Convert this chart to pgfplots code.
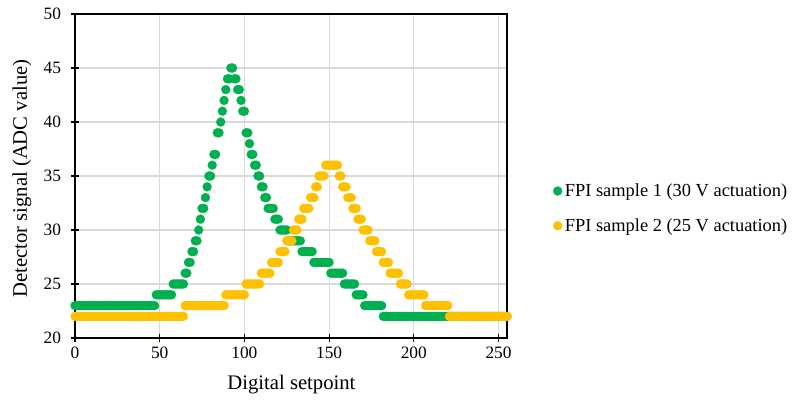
\documentclass[border=0pt]{standalone}
\usepackage{pgfplots}
\usepackage{pgfplotstable}
\pgfplotsset{compat=1.18}
\usepackage{fontspec}
\setmainfont{Liberation Serif}

\definecolor{sgreen}{HTML}{00B050}
\definecolor{syellow}{HTML}{FFC000}
\definecolor{gridgray}{HTML}{D9D9D9}

% setpoint, FPI sample 1, FPI sample 2
\pgfplotstableread[row sep=\\]{
x g y\\
0 23 22\\1 23 22\\2 23 22\\3 23 22\\4 23 22\\5 23 22\\6 23 22\\7 23 22\\
8 23 22\\9 23 22\\10 23 22\\11 23 22\\12 23 22\\13 23 22\\14 23 22\\15 23 22\\
16 23 22\\17 23 22\\18 23 22\\19 23 22\\20 23 22\\21 23 22\\22 23 22\\23 23 22\\
24 23 22\\25 23 22\\26 23 22\\27 23 22\\28 23 22\\29 23 22\\30 23 22\\31 23 22\\
32 23 22\\33 23 22\\34 23 22\\35 23 22\\36 23 22\\37 23 22\\38 23 22\\39 23 22\\
40 23 22\\41 23 22\\42 23 22\\43 23 22\\44 23 22\\45 23 22\\46 23 22\\47 23 22\\
48 24 22\\49 24 22\\50 24 22\\51 24 22\\52 24 22\\53 24 22\\54 24 22\\55 24 22\\
56 24 22\\57 24 22\\58 25 22\\59 25 22\\60 25 22\\61 25 22\\62 25 22\\63 25 22\\
64 25 22\\65 26 23\\66 26 23\\67 27 23\\68 27 23\\69 28 23\\70 28 23\\71 29 23\\
72 29 23\\73 30 23\\74 31 23\\75 32 23\\76 32 23\\77 33 23\\78 34 23\\79 35 23\\
80 35 23\\81 36 23\\82 37 23\\83 37 23\\84 39 23\\85 39 23\\86 40 23\\87 41 23\\
88 42 23\\89 43 24\\90 44 24\\91 44 24\\92 45 24\\93 45 24\\94 44 24\\95 44 24\\
96 43 24\\97 43 24\\98 42 24\\99 41 24\\100 41 24\\101 39 25\\102 39 25\\103 38 25\\
104 37 25\\105 37 25\\106 36 25\\107 36 25\\108 35 25\\109 35 25\\110 34 26\\111 34 26\\
112 33 26\\113 33 26\\114 32 26\\115 32 26\\116 32 27\\117 32 27\\118 31 27\\119 31 27\\
120 31 27\\121 30 28\\122 30 28\\123 30 28\\124 30 28\\125 30 29\\126 29 29\\127 29 29\\
128 29 29\\129 29 30\\130 29 30\\131 29 30\\132 29 31\\133 29 31\\134 28 31\\135 28 32\\
136 28 32\\137 28 32\\138 28 32\\139 28 33\\140 28 33\\141 27 33\\142 27 34\\143 27 34\\
144 27 35\\145 27 35\\146 27 35\\147 27 35\\148 27 36\\149 27 36\\150 27 36\\151 26 36\\
152 26 36\\153 26 36\\154 26 36\\155 26 36\\156 26 35\\157 26 35\\158 26 34\\159 25 34\\
160 25 34\\161 25 33\\162 25 33\\163 25 33\\164 25 32\\165 25 32\\166 24 32\\167 24 31\\
168 24 31\\169 24 31\\170 24 30\\171 23 30\\172 23 30\\173 23 30\\174 23 29\\175 23 29\\
176 23 29\\177 23 29\\178 23 28\\179 23 28\\180 23 28\\181 23 28\\182 22 27\\183 22 27\\
184 22 27\\185 22 27\\186 22 26\\187 22 26\\188 22 26\\189 22 26\\190 22 26\\191 22 26\\
192 22 25\\193 22 25\\194 22 25\\195 22 25\\196 22 25\\197 22 24\\198 22 24\\199 22 24\\
200 22 24\\201 22 24\\202 22 24\\203 22 24\\204 22 24\\205 22 24\\206 22 24\\207 22 23\\
208 22 23\\209 22 23\\210 22 23\\211 22 23\\212 22 23\\213 22 23\\214 22 23\\215 22 23\\
216 22 23\\217 22 23\\218 22 23\\219 22 23\\220 22 23\\221 22 22\\222 22 22\\223 22 22\\
224 22 22\\225 22 22\\226 22 22\\227 22 22\\228 22 22\\229 22 22\\230 22 22\\231 22 22\\
232 22 22\\233 22 22\\234 22 22\\235 22 22\\236 22 22\\237 22 22\\238 22 22\\239 22 22\\
240 22 22\\241 22 22\\242 22 22\\243 22 22\\244 22 22\\245 22 22\\246 22 22\\247 22 22\\
248 22 22\\249 22 22\\250 22 22\\251 22 22\\252 22 22\\253 22 22\\254 22 22\\255 22 22\\
}\fpidata

\begin{document}
\begin{tikzpicture}
\begin{axis}[
    at={(0,0)}, anchor=south west,
    scale only axis,
    width=324pt, height=243pt,
    xmin=0, xmax=255, ymin=20, ymax=50,
    xtick={0,50,...,250}, ytick={20,25,...,50},
    xmajorgrids=true, ymajorgrids=true,
    grid style={gridgray, line width=0.9pt},
    axis line style={black, line width=0.9pt},
    tick style={black, line width=0.9pt},
    tick align=center, major tick length=6pt,
    xtick pos=bottom, ytick pos=left,
    ticklabel style={font=\fontsize{13}{15}\selectfont},
    yticklabel style={xshift=-4pt},
    /pgf/number format/assume math mode=true,
    xlabel={Digital setpoint},
    ylabel={Detector signal (ADC value)},
    label style={font=\fontsize{15.5}{18}\selectfont},
    xlabel style={at={(axis description cs:0.501,-0.145)}, anchor=center},
    ylabel style={at={(axis description cs:-0.123,0.492)}, anchor=center},
    clip=false,
    legend style={at={(1.097,0.40)}, anchor=west, draw=none,
        font=\fontsize{13.8}{16}\selectfont, row sep=11pt},
    legend cell align=left,
]
\addplot[only marks, mark=*, mark size=3.4pt, color=sgreen,
    mark options={draw=sgreen, fill=sgreen, line width=0.1pt}]
    table[x=x, y=g] {\fpidata};
\addlegendentry{FPI sample 1 (30 V actuation)}
\addplot[only marks, mark=*, mark size=3.4pt, color=syellow,
    mark options={draw=syellow, fill=syellow, line width=0.1pt}]
    table[x=x, y=y] {\fpidata};
\addlegendentry{FPI sample 2 (25 V actuation)}
\end{axis}
\useasboundingbox (-56.25pt,-48pt) rectangle (543.75pt,253.5pt);
\end{tikzpicture}
\end{document}
